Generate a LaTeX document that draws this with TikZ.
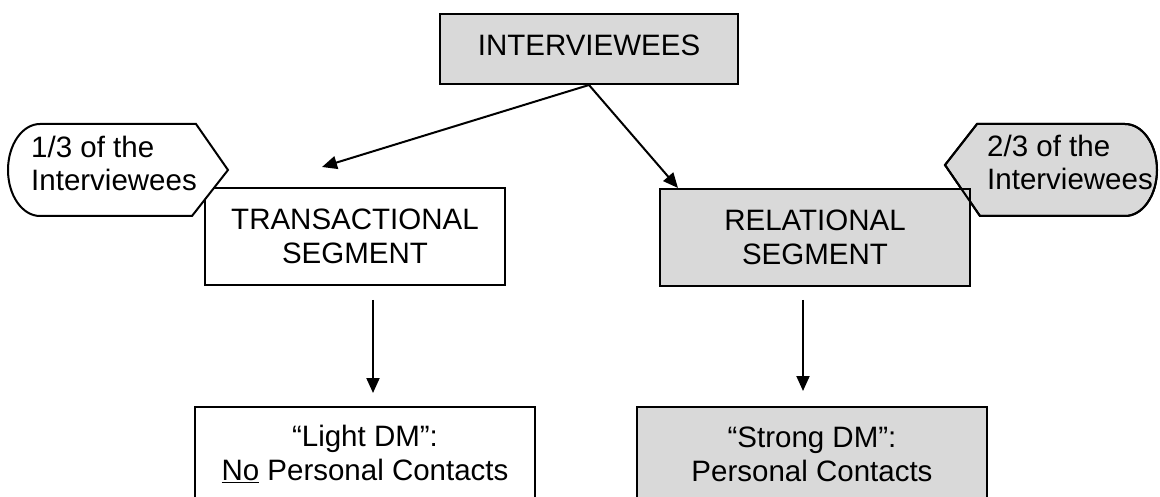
\documentclass[tikz,border=0pt]{standalone}
\usepackage{fontspec}
\setmainfont{Liberation Sans}
\usetikzlibrary{arrows.meta}
\begin{document}
\begin{tikzpicture}[x=1pt,y=-1pt,
  every node/.style={font=\fontsize{29.5}{34}\selectfont, inner sep=0pt},
  lw/.style={line width=2pt},
  box/.style={draw, line width=2pt, align=center},
  graybox/.style={box, fill=black!15},
  whitebox/.style={box, fill=white},
  callfill/.style={line width=2pt, draw},
  arr/.style={line width=2pt, -{Triangle[length=15pt,width=13pt]}},
  ]
\useasboundingbox (0,0) rectangle (1160,497);

% top box
\node[graybox, minimum width=298pt, minimum height=70pt, text depth=8pt] (interv) at (589,49) {INTERVIEWEES};

% middle boxes
\node[whitebox, minimum width=300pt, minimum height=97pt] (trans) at (355,236.5) {TRANSACTIONAL\\SEGMENT};
\path[fill=black!15, callfill] (1125,124) -- (977,124) -- (945,165) -- (980,216) -- (1125,216)
  arc[start angle=-90, end angle=90, x radius=32pt, y radius=46pt] -- cycle;
\node[graybox, minimum width=310pt, minimum height=97pt] (rel) at (815,237.5) {RELATIONAL\\SEGMENT};
\draw[lw] (1125,124) -- (977,124) -- (945,165) -- (980,216) -- (1125,216)
  arc[start angle=-90, end angle=90, x radius=32pt, y radius=46pt] -- cycle;
\node[anchor=west, align=left, font=\fontsize{29.5}{33}\selectfont] (c2) at (987,162) {2/3 of the\\Interviewees};

% left callout (white, covers corner of box)
\path[fill=white, callfill] (40,124) -- (196,124) -- (228,170) -- (192,216) -- (40,216)
  arc[start angle=270, end angle=90, x radius=32pt, y radius=46pt] -- cycle;
\node[anchor=west, align=left, font=\fontsize{29.5}{33}\selectfont] (c1) at (31,163.5) {1/3 of the\\Interviewees};

% bottom boxes
\node[whitebox, minimum width=340pt, minimum height=94pt] (light) at (365,454) {``Light DM'':\\\underline{No} Personal Contacts};
\node[graybox, minimum width=350pt, minimum height=94pt] (strong) at (812,454) {``Strong DM'':\\Personal Contacts};

% connectors
\coordinate (ltip) at (322,167);
\coordinate (rtip) at (678,188);
\draw[arr] (interv.south) -- (ltip);
\draw[arr] (interv.south) -- (rtip);

\coordinate (ls) at (373,300);
\coordinate (le) at (373,393);
\coordinate (rs) at (803,300);
\coordinate (re) at (803,391);
\draw[arr] (ls) -- (le);
\draw[arr] (rs) -- (re);
\end{tikzpicture}
\end{document}
